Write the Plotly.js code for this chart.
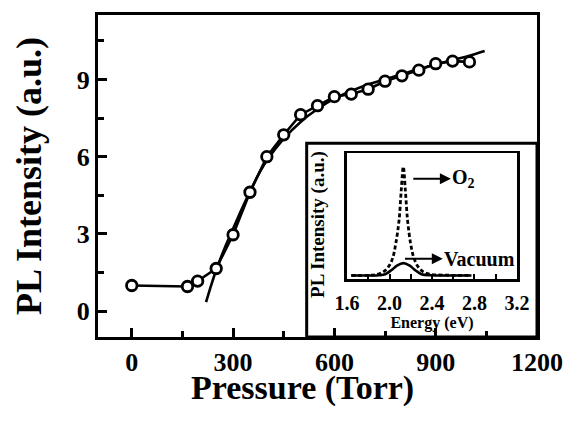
<!DOCTYPE html>
<html>
<head>
<meta charset="utf-8">
<script src="https://cdn.plot.ly/plotly-3.0.1.min.js"></script>
<style>html,body{margin:0;padding:0;background:#fff;}#chart{width:568px;height:428px;}</style>
</head>
<body>
<div id="chart"></div>
<script>
// Main panel: PL intensity vs pressure
const pressure = [0, 165, 195, 250, 300, 350, 400, 450, 500, 550, 600, 650, 700, 750, 800, 850, 900, 950, 1000];
const intensity = [1.0, 0.96, 1.17, 1.66, 2.97, 4.62, 6.0, 6.85, 7.63, 7.98, 8.33, 8.43, 8.62, 8.93, 9.14, 9.36, 9.61, 9.71, 9.68];
// Fitted curve
const fitPressure = [220, 235, 250, 275, 300, 325, 350, 375, 400, 450, 500, 550, 600, 650, 700, 750, 800, 850, 900, 950, 1000, 1045];
const fitIntensity = [0.35, 1.0, 1.6, 2.45, 3.2, 3.95, 4.65, 5.3, 5.85, 6.7, 7.35, 7.85, 8.25, 8.55, 8.8, 9.0, 9.2, 9.4, 9.58, 9.75, 9.92, 10.1];
const xTicks = [0, 300, 600, 900, 1200];
const yTicks = [0, 3, 6, 9];

// Inset: PL spectra
const energyO2 = [1.64, 1.8, 1.88, 1.94, 1.99, 2.03, 2.06, 2.09, 2.11, 2.13, 2.15, 2.17, 2.2, 2.23, 2.27, 2.32, 2.38, 2.5, 2.77];
const plO2 = [0.032, 0.033, 0.04, 0.06, 0.1, 0.17, 0.29, 0.47, 0.7, 0.895, 0.7, 0.47, 0.28, 0.17, 0.1, 0.06, 0.042, 0.035, 0.032];
const energyVac = [1.64, 1.9, 1.96, 2.02, 2.07, 2.13, 2.19, 2.24, 2.3, 2.4, 2.77];
const plVac = [0.032, 0.034, 0.042, 0.075, 0.11, 0.13, 0.11, 0.075, 0.042, 0.034, 0.032];
const insetTicks = [1.6, 2.0, 2.4, 2.8, 3.2];
const insetTickText = ['1.6', '2.0', '2.4', '2.8', '3.2'];

const FONT = 'Liberation Serif';

const traces = [
  {x: fitPressure, y: fitIntensity, type: 'scatter', mode: 'lines',
   line: {color: '#000', width: 2.6, shape: 'spline', smoothing: 0.8}, xaxis: 'x', yaxis: 'y', hoverinfo: 'skip'},
  {x: pressure, y: intensity, type: 'scatter', mode: 'lines+markers',
   line: {color: '#000', width: 2.6},
   marker: {symbol: 'circle', size: 10.5, color: '#fff', line: {color: '#000', width: 2.8}},
   xaxis: 'x', yaxis: 'y'},
  {x: energyO2, y: plO2, type: 'scatter', mode: 'lines',
   line: {color: '#000', width: 2.8, dash: '4px,2.5px', shape: 'spline'}, xaxis: 'x2', yaxis: 'y2'},
  {x: energyVac, y: plVac, type: 'scatter', mode: 'lines',
   line: {color: '#000', width: 2.6, shape: 'spline'}, xaxis: 'x2', yaxis: 'y2'}
];

const layout = {
  width: 568, height: 428,
  margin: {l: 98, r: 31, t: 15, b: 91},
  paper_bgcolor: '#fff', plot_bgcolor: '#fff',
  showlegend: false,
  font: {family: FONT, color: '#000'},
  xaxis: {
    range: [-100, 1200], tickvals: xTicks, ticktext: xTicks.map(String),
    ticks: 'inside', ticklen: 9, tickwidth: 3, tickcolor: '#000',
    minor: {dtick: 150, tick0: 0, ticks: 'inside', ticklen: 6, tickwidth: 3, tickcolor: '#000'},
    showline: true, linewidth: 3, linecolor: '#000', mirror: true,
    showgrid: false, zeroline: false,
    tickfont: {family: FONT, size: 26, weight: 'bold', color: '#000'}
  },
  yaxis: {
    range: [-1, 11.5], tickvals: yTicks, ticktext: yTicks.map(String),
    ticks: 'inside', ticklen: 9, tickwidth: 3, tickcolor: '#000',
    minor: {dtick: 1.5, tick0: 0, ticks: 'inside', ticklen: 6, tickwidth: 3, tickcolor: '#000'},
    showline: true, linewidth: 3, linecolor: '#000', mirror: true,
    showgrid: false, zeroline: false,
    tickfont: {family: FONT, size: 26, weight: 'bold', color: '#000'},
    title: {text: 'PL Intensity (a.u.)', font: {family: FONT, size: 36, weight: 'bold', color: '#000'}, standoff: 25}
  },
  xaxis2: {
    domain: [0.5672, 0.9544], anchor: 'y2',
    range: [1.6, 3.2], tickvals: insetTicks, ticktext: insetTickText,
    ticks: 'inside', ticklen: 5, tickwidth: 2, tickcolor: '#000',
    minor: {dtick: 0.2, tick0: 1.6, ticks: 'inside', ticklen: 5, tickwidth: 2, tickcolor: '#000'},
    showline: true, linewidth: 2.6, linecolor: '#000', mirror: true,
    showgrid: false, zeroline: false, ticklabelstandoff: 4,
    tickfont: {family: FONT, size: 20, weight: 'bold', color: '#000'},
    title: {text: 'Energy (eV)', font: {family: FONT, size: 16, weight: 'bold', color: '#000'}, standoff: 0}
  },
  yaxis2: {
    domain: [0.1786, 0.5699], anchor: 'x2',
    range: [0, 1], showticklabels: false, ticks: '',
    showline: true, linewidth: 2.6, linecolor: '#000', mirror: true,
    showgrid: false, zeroline: false
  },
  shapes: [
    {type: 'rect', xref: 'x', yref: 'y', x0: 518, x1: 1200, y0: -1, y1: 6.52,
     fillcolor: '#fff', line: {color: '#000', width: 3}, layer: 'below'}
  ],
  annotations: [
    // main x-axis title
    {xref: 'paper', yref: 'paper', x: 0.466, y: -0.158, yanchor: 'middle', text: 'Pressure (Torr)',
     showarrow: false, font: {family: FONT, size: 34, weight: 'bold', color: '#000'}},
    // inset y-axis title
    {xref: 'paper', yref: 'paper', x: 0.501, y: 0.351, text: 'PL Intensity (a.u.)', textangle: -90,
     showarrow: false, font: {family: FONT, size: 19, weight: 'bold', color: '#000'}},
    // O2 label with arrow pointing to it
    {xref: 'x2', yref: 'y2', x: 2.224, y: 0.80, axref: 'x2', ayref: 'y2', ax: 2.70, ay: 0.80,
     text: 'O<sub>2</sub>', showarrow: true, arrowside: 'start', arrowhead: 2, startarrowhead: 2,
     arrowsize: 1.1, startarrowsize: 1.1, arrowwidth: 2, arrowcolor: '#000', standoff: 0, startstandoff: 0,
     font: {family: FONT, size: 20, weight: 'bold', color: '#000'}},
    // Vacuum label with arrow pointing to it
    {xref: 'x2', yref: 'y2', x: 2.146, y: 0.165, axref: 'x2', ayref: 'y2', ax: 2.85, ay: 0.165,
     text: 'Vacuum', showarrow: true, arrowside: 'start', arrowhead: 2, startarrowhead: 2,
     arrowsize: 1.1, startarrowsize: 1.1, arrowwidth: 2, arrowcolor: '#000', standoff: 0, startstandoff: 0,
     font: {family: FONT, size: 20, weight: 'bold', color: '#000'}}
  ]
};

Plotly.newPlot('chart', traces, layout, {displayModeBar: false, staticPlot: true});
</script>
</body>
</html>
